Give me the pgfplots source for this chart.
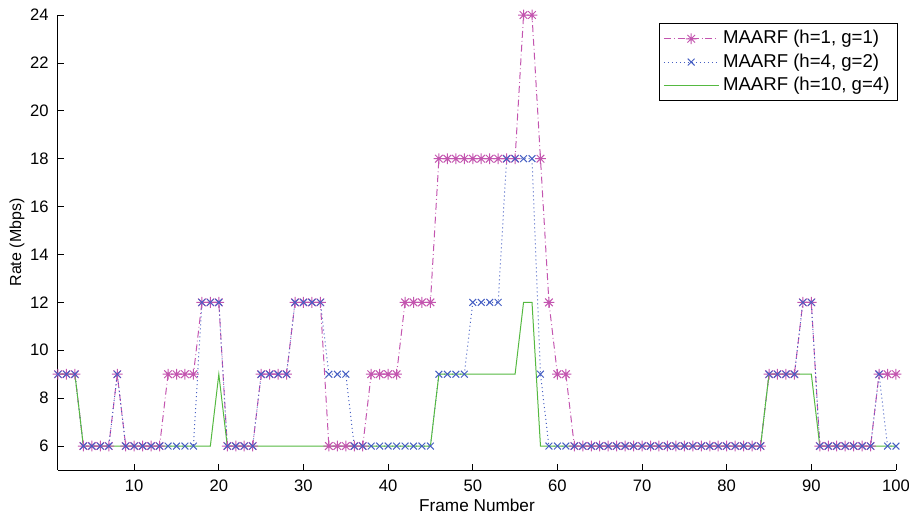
\documentclass[border=0pt]{standalone}
\usepackage{pgfplots}
\pgfplotsset{compat=1.18}
\usepackage{pgfplotstable}
\usepackage{fontspec}
\setmainfont{Liberation Sans}
\definecolor{magC}{RGB}{195,85,175}
\definecolor{bluC}{RGB}{70,95,195}
\definecolor{grnC}{RGB}{85,185,65}
\pgfdeclareplotmark{mstar}{%
  \pgfpathmoveto{\pgfqpoint{-\pgfplotmarksize}{0pt}}\pgfpathlineto{\pgfqpoint{\pgfplotmarksize}{0pt}}%
  \pgfpathmoveto{\pgfqpoint{0pt}{-\pgfplotmarksize}}\pgfpathlineto{\pgfqpoint{0pt}{\pgfplotmarksize}}%
  \pgfpathmoveto{\pgfqpoint{-.707\pgfplotmarksize}{-.707\pgfplotmarksize}}\pgfpathlineto{\pgfqpoint{.707\pgfplotmarksize}{.707\pgfplotmarksize}}%
  \pgfpathmoveto{\pgfqpoint{-.707\pgfplotmarksize}{.707\pgfplotmarksize}}\pgfpathlineto{\pgfqpoint{.707\pgfplotmarksize}{-.707\pgfplotmarksize}}%
  \pgfusepathqstroke}
\pgfplotstableread{
x a b c
1 9 9 9
2 9 9 9
3 9 9 9
4 6 6 6
5 6 6 6
6 6 6 6
7 6 6 6
8 9 9 6
9 6 6 6
10 6 6 6
11 6 6 6
12 6 6 6
13 6 6 6
14 9 6 6
15 9 6 6
16 9 6 6
17 9 6 6
18 12 12 6
19 12 12 6
20 12 12 9
21 6 6 6
22 6 6 6
23 6 6 6
24 6 6 6
25 9 9 6
26 9 9 6
27 9 9 6
28 9 9 6
29 12 12 6
30 12 12 6
31 12 12 6
32 12 12 6
33 6 9 6
34 6 9 6
35 6 9 6
36 6 6 6
37 6 6 6
38 9 6 6
39 9 6 6
40 9 6 6
41 9 6 6
42 12 6 6
43 12 6 6
44 12 6 6
45 12 6 6
46 18 9 9
47 18 9 9
48 18 9 9
49 18 9 9
50 18 12 9
51 18 12 9
52 18 12 9
53 18 12 9
54 18 18 9
55 18 18 9
56 24 18 12
57 24 18 12
58 18 9 6
59 12 6 6
60 9 6 6
61 9 6 6
62 6 6 6
63 6 6 6
64 6 6 6
65 6 6 6
66 6 6 6
67 6 6 6
68 6 6 6
69 6 6 6
70 6 6 6
71 6 6 6
72 6 6 6
73 6 6 6
74 6 6 6
75 6 6 6
76 6 6 6
77 6 6 6
78 6 6 6
79 6 6 6
80 6 6 6
81 6 6 6
82 6 6 6
83 6 6 6
84 6 6 6
85 9 9 9
86 9 9 9
87 9 9 9
88 9 9 9
89 12 12 9
90 12 12 9
91 6 6 6
92 6 6 6
93 6 6 6
94 6 6 6
95 6 6 6
96 6 6 6
97 6 6 6
98 9 9 6
99 9 6 6
100 9 6 6
}\data
\begin{document}
\begin{tikzpicture}
\begin{axis}[
  at={(0,0)}, anchor=south west,
  scale only axis,
  width=419pt, height=227.5pt,
  xmin=1, xmax=100, ymin=5, ymax=24,
  xtick={10,20,...,100}, ytick={6,8,...,24},
  axis x line*=bottom, axis y line*=left,
  tick align=inside,
  major tick length=3pt,
  every tick/.style={black, line width=0.4pt},
  axis line style={line width=0.5pt},
  tick label style={font=\fontsize{8.3}{10}\selectfont},
  xticklabel style={yshift=-1.2pt},
  yticklabel style={xshift=-1.2pt},
  /pgf/number format/assume math mode=true,
  xlabel={Frame Number}, ylabel={Rate (Mbps)},
  xlabel style={font=\fontsize{8.6}{10}\selectfont, at={(axis description cs:0.5,-0.0769)}, anchor=center},
  ylabel style={font=\fontsize{8.0}{10}\selectfont, at={(axis description cs:-0.0489,0.5)}, anchor=center},
  legend style={at={(1.0024,0.9824)}, anchor=north east, draw=black, line width=0.5pt,
    font=\fontsize{9.3}{11}\selectfont, inner xsep=2pt, inner ysep=1.5pt, row sep=-0.6pt, legend cell align=left},
  legend image code/.code={\draw[mark repeat=2,mark phase=2] plot coordinates {(0cm,0cm) (0.48cm,0cm) (0.96cm,0cm)};},
]
\addplot[color=magC, line width=0.5pt, dash pattern=on 3.5pt off 1.5pt on 0.4pt off 1.5pt,
  mark=mstar, mark size=2.7pt, mark options={solid, line width=0.5pt}] table[x=x,y=a]{\data};
\addlegendentry{MAARF (h=1, g=1)}
\addplot[color=bluC, line width=0.5pt, dash pattern=on 0.5pt off 1.5pt,
  mark=x, mark size=2.4pt, mark options={solid, line width=0.5pt}] table[x=x,y=b]{\data};
\addlegendentry{MAARF (h=4, g=2)}
\addplot[color=grnC, line width=0.5pt, no marks] table[x=x,y=c]{\data};
\addlegendentry{MAARF (h=10, g=4)}
\end{axis}
\pgfresetboundingbox
\path[use as bounding box] (-29pt,-23pt) rectangle (425.5pt,235pt);
\end{tikzpicture}
\end{document}
